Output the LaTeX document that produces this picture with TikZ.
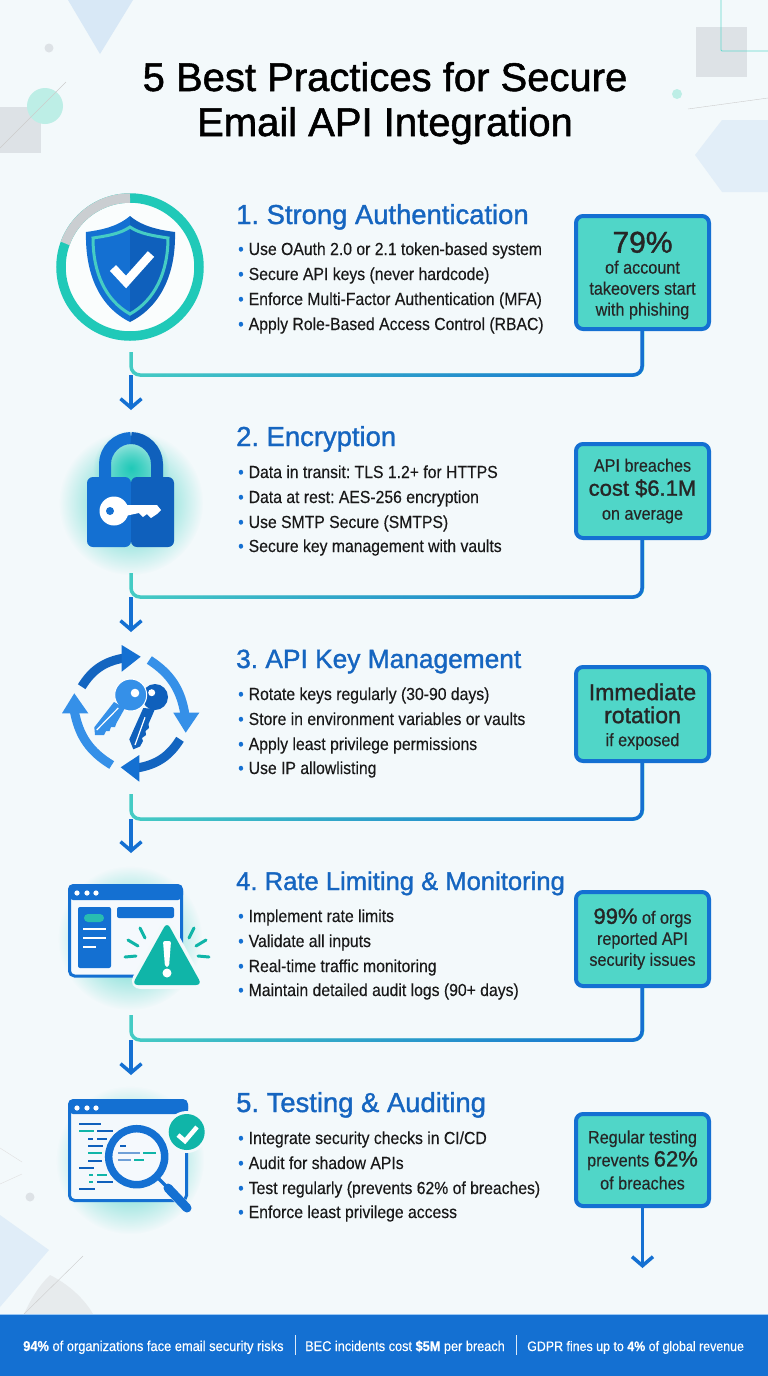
\documentclass[tikz,border=0pt]{standalone}
\usepackage{fontspec}
\setmainfont{Liberation Sans}
\newfontfamily\headfont[FakeBold=1.3]{Liberation Sans}
\newfontfamily\bodyfont[FakeStretch=0.9,FakeBold=0.3]{Liberation Sans}
\usetikzlibrary{arrows.meta,fadings}

\definecolor{pagebg}{HTML}{F3F9FB}
\definecolor{mainblue}{HTML}{1470D2}
\definecolor{darkblue}{HTML}{0F60BC}
\definecolor{liteblue}{HTML}{3590E8}
\definecolor{headblue}{HTML}{1565C0}
\definecolor{linkteal}{HTML}{45CCC4}
\definecolor{ringteal}{HTML}{20C9B8}
\definecolor{darkteal}{HTML}{10B5A8}
\definecolor{boxteal}{HTML}{50D6C8}
\definecolor{softgray}{HTML}{DDE2E6}
\definecolor{softblue}{HTML}{D8E8F6}
\definecolor{softteal}{HTML}{BDEEE6}

\tikzfading[name=glowfade,inner color=transparent!0,outer color=transparent!100]
\tikzfading[name=linkfade,left color=transparent!100,middle color=transparent!75,right color=transparent!0]

\newcommand{\bul}{\textcolor{mainblue}{\textbullet}\hspace{5pt}}
\frenchspacing

\tikzset{
  title/.style={font=\headfont\fontsize{40}{46}\selectfont,text=black,inner sep=0,anchor=base,yshift=-14pt},
  heading/.style={anchor=base west,font=\headfont\fontsize{27.4}{30}\selectfont,text=headblue,inner sep=0,yshift=-10pt},
  point/.style={anchor=base west,font=\bodyfont\fontsize{17.5}{20}\selectfont,text=black!90,inner sep=0,yshift=-6pt},
  statbox/.style={draw=mainblue,line width=4pt,fill=boxteal,rounded corners=7pt,minimum width=133pt,
    align=center,inner sep=0,text=black!85,font=\bodyfont\fontsize{18}{21}\selectfont},
  link/.style={line width=3.5pt,rounded corners=9pt},
  flow/.style={line width=3.5pt,draw=mainblue,-{Straight Barb[length=9pt,width=21pt,line width=3.5pt]}},
  footer/.style={font=\bodyfont\fontsize{13.8}{17}\selectfont,text=white,inner sep=0,anchor=base west,yshift=-5pt},
  glow/.style={fill=#1,path fading=glowfade},
  codeline/.style={line width=2.6pt,draw=darkblue},
  ray/.style={line width=3pt,draw=darkteal,line cap=round}
}

\begin{document}
\begin{tikzpicture}[x=1pt,y=-1pt]
   \useasboundingbox (0,0) rectangle (768,1376);
   \fill[pagebg] (0,0) rectangle (768,1376);

   \fill[softblue] (68,0) -- (133,0) -- (100,54) -- cycle;
   \fill[softgray] (49,48) circle (4.5);
   \fill[softgray] (0,107) rectangle (41,153);
   \fill[softteal] (45,106) circle (18);
   \draw[black!20] (66,82) -- (0,148);
   \fill[softgray] (696,27) rectangle (747,77);
   \draw[ringteal!70,line width=.8pt,rounded corners=1pt] (721,0) -- (721,51) -- (768,51);
   \fill[softteal] (677,94) circle (5);
   \draw[black!20] (688,109) -- (768,98);
   \fill[softblue!75] (695,155) -- (722,120) -- (768,120) -- (768,192) -- (722,192) -- cycle;
   \fill[softblue!80] (0,1215) -- (49,1250) -- (0,1307) -- cycle;
   \fill[softgray!70] (24,1314) .. controls (35,1290) and (45,1280) .. (50,1275) .. controls (70,1285) and (85,1300) .. (93,1314) -- cycle;
   \draw[black!20] (24,1314) -- (83,1256);
   \draw[black!12] (0,1148) -- (22,1162);
   \draw[black!12] (0,1184) -- (22,1174);
   \fill[softgray] (30,1197) circle (4.5);

   \node[title] (title1) at (385,77) {5 Best Practices for Secure};
   \node[title] (title2) at (385,122) {Email API Integration};

   \node[heading] (head1) at (236,214) {1. Strong Authentication};
   \node[point] (p11) at (238,249) {\bul Use OAuth 2.0 or 2.1 token-based system};
   \node[point] (p12) at (238,274) {\bul Secure API keys (never hardcode)};
   \node[point] (p13) at (238,299) {\bul Enforce Multi-Factor Authentication (MFA)};
   \node[point] (p14) at (238,324) {\bul Apply Role-Based Access Control (RBAC)};

   \node[heading] (head2) at (236,436) {2. Encryption};
   \node[point] (p21) at (238,472) {\bul Data in transit: TLS 1.2+ for HTTPS};
   \node[point] (p22) at (238,497) {\bul Data at rest: AES-256 encryption};
   \node[point] (p23) at (238,522) {\bul Use SMTP Secure (SMTPS)};
   \node[point] (p24) at (238,546) {\bul Secure key management with vaults};

   \node[heading] (head3) at (236,658) {\fontsize{26.3}{30}\selectfont 3. API Key Management};
   \node[point] (p31) at (238,694) {\bul Rotate keys regularly (30-90 days)};
   \node[point] (p32) at (238,719) {\bul Store in environment variables or vaults};
   \node[point] (p33) at (238,744) {\bul Apply least privilege permissions};
   \node[point] (p34) at (238,768) {\bul Use IP allowlisting};

   \node[heading] (head4) at (236,880) {\fontsize{25.6}{30}\selectfont 4. Rate Limiting \& Monitoring};
   \node[point] (p41) at (238,916) {\bul Implement rate limits};
   \node[point] (p42) at (238,941) {\bul Validate all inputs};
   \node[point] (p43) at (238,966) {\bul Real-time traffic monitoring};
   \node[point] (p44) at (238,990) {\bul Maintain detailed audit logs (90+ days)};

   \node[heading] (head5) at (236,1102) {5. Testing \& Auditing};
   \node[point] (p51) at (238,1138) {\bul Integrate security checks in CI/CD};
   \node[point] (p52) at (238,1163) {\bul Audit for shadow APIs};
   \node[point] (p53) at (238,1188) {\bul Test regularly (prevents 62\% of breaches)};
   \node[point] (p54) at (238,1212) {\bul Enforce least privilege access};

   \node[statbox,minimum height=113pt] (box1) at (642.5,272.5) {\rule{0pt}{27pt}{\headfont\fontsize{30}{33}\selectfont 79\%}\\of account\\takeovers start\\with phishing};
   \node[statbox,minimum height=94pt] (box2) at (642.5,491) {API breaches\\[3pt]{\headfont\fontsize{22}{26}\selectfont cost \$6.1M}\\[3pt]on average};
   \node[statbox,minimum height=94pt] (box3) at (642.5,714) {\rule{0pt}{22pt}{\headfont\fontsize{23}{27}\selectfont Immediate}\\[2pt]{\headfont\fontsize{23}{27}\selectfont rotation}\\[2pt]if exposed};
   \node[statbox,minimum height=94pt] (box4) at (642.5,939) {{\headfont\fontsize{22}{24}\selectfont 99\%} of orgs\\reported API\\security issues};
   \node[statbox,minimum height=92pt] (box5) at (642.5,1160) {Regular testing\\[2pt]prevents {\headfont\fontsize{22}{24}\selectfont 62\%}\\[2pt]of breaches};

   \coordinate (top1) at (131,352);
   \coordinate (mid1) at (131,375);
   \coordinate (tip1) at (131,410);
   \coordinate (top2) at (131,573);
   \coordinate (mid2) at (131,597);
   \coordinate (tip2) at (131,632);
   \coordinate (top3) at (131,794);
   \coordinate (mid3) at (131,819);
   \coordinate (tip3) at (131,853);
   \coordinate (top4) at (131,1015);
   \coordinate (mid4) at (131,1040);
   \coordinate (tip4) at (131,1075);
   \coordinate (tip5) at (642.5,1268);

   \draw[flow] (mid1) -- (tip1);
   \draw[link,linkteal] (top1) -- (mid1) -| (box1.south);
   \draw[link,mainblue,path fading=linkfade] (top1) -- (mid1) -| (box1.south);
   \draw[flow] (mid2) -- (tip2);
   \draw[link,linkteal] (top2) -- (mid2) -| (box2.south);
   \draw[link,mainblue,path fading=linkfade] (top2) -- (mid2) -| (box2.south);
   \draw[flow] (mid3) -- (tip3);
   \draw[link,linkteal] (top3) -- (mid3) -| (box3.south);
   \draw[link,mainblue,path fading=linkfade] (top3) -- (mid3) -| (box3.south);
   \draw[flow] (mid4) -- (tip4);
   \draw[link,linkteal] (top4) -- (mid4) -| (box4.south);
   \draw[link,mainblue,path fading=linkfade] (top4) -- (mid4) -| (box4.south);
   \draw[flow] (box5.south) -- (tip5);

   % shield
   \fill[white!60!pagebg] (130,267) circle (65);
   \draw[ringteal,line width=9.5pt] (130,267) circle (69);
   \draw[softgray!90!black!95,line width=9.5pt] (130,198) arc (-90:-160:69);
   \fill[mainblue] (130,216) .. controls (117,227) and (101,230) .. (86,232) .. controls (85,275) and (100,307) .. (130,322) -- cycle;
   \fill[darkblue] (130,216) .. controls (143,227) and (160,230) .. (175,232) .. controls (176,275) and (160,307) .. (130,322) -- cycle;
   \draw[linkteal,line width=3pt] (130,227) .. controls (120,234) and (106,236) .. (93,238) .. controls (93,272) and (105,300) .. (130,314) .. controls (155,300) and (168,272) .. (168,238) .. controls (155,236) and (140,234) .. (130,227) -- cycle;
   \draw[white,line width=8.5pt] (113,268) -- (126,282) -- (151,254);

   % lock
   \fill[glow=ringteal!85] (131,503) circle (72);
   \fill[glow=ringteal] (131,468) circle (38);
   \draw[mainblue,line width=12pt] (105,480) -- (105,464) .. controls (105,450) and (117,438) .. (131,438);
   \draw[darkblue,line width=12pt] (157,480) -- (157,464) .. controls (157,450) and (145,438) .. (131,438);
   \fill[mainblue,rounded corners=6pt] (131,477) -- (87,477) -- (87,547) -- (131,547) -- cycle;
   \fill[darkblue,rounded corners=6pt] (131,477) -- (174,477) -- (174,547) -- (131,547) -- cycle;
   \fill[white] (114,511) circle (14.5);
   \fill[white] (125,505) -- (157,505) -- (161,510) -- (157,514) -- (151,518) -- (147,514) -- (143,517) -- (139,513) -- (125,516) -- cycle;
   \fill[mainblue] (110,511) circle (4);

   % rotating keys
   \draw[darkblue!90!liteblue,line width=9pt] (81.7,686.7) to[bend left=24] (124,658);
   \fill[mainblue] (140.7,656.7) -- (121.7,645) -- (121.7,671.7) -- cycle;
   \draw[liteblue,line width=9pt] (149.3,660) to[bend left=24] (185,715);
   \fill[liteblue] (173.3,712.7) -- (199.3,712.7) -- (185.7,732.7) -- cycle;
   \draw[darkblue!90!liteblue,line width=9pt] (180,739.3) to[bend left=24] (137,768);
   \fill[mainblue] (120.7,767.3) -- (139.3,755) -- (139.3,781.7) -- cycle;
   \draw[liteblue,line width=9pt] (111.7,765) to[bend left=24] (74.3,711);
   \fill[liteblue] (62,713.3) -- (88.3,713.3) -- (74.3,693.3) -- cycle;
   \fill[darkblue] (155,697) circle (13);
   \fill[darkblue] (143.3,708) -- (129.3,739.3) -- (133.3,749.3) -- (140,746.5) -- (143,741) -- (142,738) -- (146,735) -- (145.5,731) -- (149,728) -- (148.5,724) -- (155,709) -- cycle;
   \draw[white,line width=1.2pt] (135,745) -- (145,717.3);
   \fill[white] (151.7,692.7) circle (3.5);
   \fill[liteblue,draw=white,line width=1pt] (130.7,695) circle (16);
   \fill[liteblue] (114,702) -- (94.3,727.3) -- (95,735) -- (104,735) -- (106,731) -- (109.5,731) -- (111,727) -- (115,727) -- (116.5,723) -- (125,708) -- cycle;
   \draw[white,line width=1.2pt] (96.7,730) -- (118.3,708);
   \fill[white] (135,693) circle (4.3);

   % alert window
   \fill[glow=ringteal!85] (130,938) circle (72);
   \draw[mainblue,line width=3pt,fill=white!75!softblue,rounded corners=5pt] (69.5,886) rectangle (181.5,976);
   \fill[mainblue,rounded corners=5pt] (68,884) rectangle (183,900);
   \fill[white] (77,893) circle (2.6);
   \fill[white] (87,893) circle (2.6);
   \fill[white] (96,893) circle (2.6);
   \fill[mainblue,rounded corners=2pt] (78,907) rectangle (111,968);
   \fill[darkteal!90,rounded corners=4pt] (84,914) rectangle (104,922);
   \draw[white,line width=2.4pt] (83,929) -- (106,929);
   \draw[white,line width=2.4pt] (83,938) -- (106,938);
   \draw[white,line width=2.4pt] (83,947) -- (96,947);
   \fill[mainblue,rounded corners=2pt] (117,907) rectangle (174,918);
   \fill[pagebg,rounded corners=8pt,draw=pagebg,line width=8pt] (167,922) -- (133,985) -- (201,985) -- cycle;
   \fill[darkteal,rounded corners=6pt] (167,922) -- (132,985) -- (202,985) -- cycle;
   \fill[white,rounded corners=2pt] (163,941) -- (171,941) -- (169,967) -- (165,967) -- cycle;
   \fill[white] (167,973) circle (4.5);
   \draw[ray] (140,928) -- (145,938);
   \draw[ray] (128,940) -- (138,946);
   \draw[ray] (125,957) -- (136,956);
   \draw[ray] (194,928) -- (189,938);
   \draw[ray] (206,940) -- (196,946);
   \draw[ray] (209,957) -- (198,956);

   % code window
   \fill[glow=ringteal!85] (130,1160) circle (74);
   \draw[mainblue,line width=3pt,fill=white!70!softblue,rounded corners=5pt] (69.5,1101) rectangle (186.5,1200.5);
   \fill[mainblue,rounded corners=5pt] (68,1099) rectangle (188,1114);
   \fill[white] (77,1108) circle (2.6);
   \fill[white] (87,1108) circle (2.6);
   \fill[white] (96,1108) circle (2.6);
   \draw[codeline] (79,1124) -- (101,1124);
   \draw[codeline,darkteal] (79,1131) -- (94,1131);
   \draw[codeline] (97,1131) -- (113,1131);
   \draw[codeline] (88,1139) -- (93,1139);
   \draw[codeline] (97,1139) -- (107,1139);
   \draw[codeline] (88,1146) -- (103,1146);
   \draw[codeline,darkteal] (88,1153) -- (102,1153);
   \draw[codeline] (88,1161) -- (102,1161);
   \draw[codeline] (79,1168) -- (94,1168);
   \draw[codeline,darkteal] (89,1175) -- (93,1175);
   \draw[codeline,darkteal] (97,1175) -- (107,1175);
   \draw[codeline,darkteal] (89,1182) -- (93,1182);
   \draw[codeline] (97,1182) -- (113,1182);
   \draw[codeline] (79,1189) -- (95,1189);
   \draw[pagebg,line width=9pt] (165,1187) -- (189,1209);
   \fill[pagebg] (136.7,1156.7) circle (33);
   \fill[pagebg] (186.7,1132) circle (21);
   \fill[white!75!softblue] (136.7,1156.7) circle (28);
   \draw[mainblue,line width=7.5pt] (136.7,1156.7) circle (28);
   \draw[mainblue,line width=3.5pt] (157,1177) -- (168,1188);
   \draw[mainblue,line width=9pt,line cap=round] (168,1188) -- (187,1208);
   \draw[codeline] (120,1146) -- (126,1146);
   \draw[codeline,darkblue!60] (118,1153) -- (140,1153);
   \draw[codeline,darkteal] (143,1153) -- (156,1153);
   \draw[codeline,darkblue!60] (118,1160) -- (131,1160);
   \draw[codeline,darkteal] (134,1160) -- (144,1160);
   \fill[darkteal] (186.7,1132) circle (18);
   \draw[white,line width=4.5pt] (178,1135) -- (185,1141) -- (197,1127);

   % footer
   \fill[mainblue] (0,1314) rectangle (768,1376);
   \draw[white!50!liteblue] (0,1314) -- (768,1314);
   \node[footer] (foot1) at (23,1346) {\fontsize{14.3}{17}\selectfont\textbf{94\%} of organizations face email security risks};
   \node[footer] (foot2) at (305,1346) {\fontsize{14.15}{17}\selectfont BEC incidents cost \textbf{\$5M} per breach};
   \node[footer] (foot3) at (527,1346) {GDPR fines up to \textbf{4\%} of global revenue};
   \draw[white!85!mainblue] (295,1335) -- (295,1355);
   \draw[white!85!mainblue] (516,1335) -- (516,1355);
\end{tikzpicture}
\end{document}
